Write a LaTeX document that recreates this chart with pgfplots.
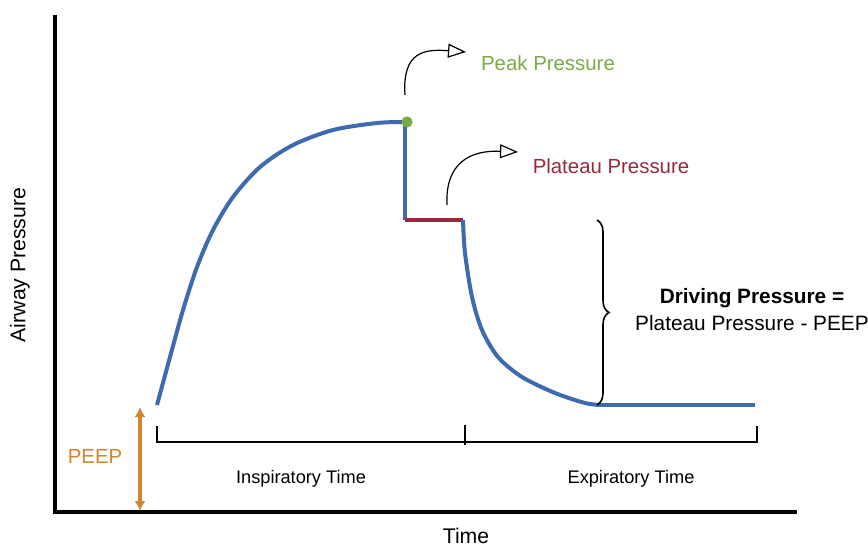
\documentclass[border=0pt]{standalone}
\usepackage{pgfplots}
\pgfplotsset{compat=1.18}
\usepackage{fontspec}
\setmainfont{Liberation Sans}
\usetikzlibrary{arrows.meta,decorations.pathreplacing}
\definecolor{cblue}{HTML}{3E6AAF}
\definecolor{cred}{HTML}{97293A}
\definecolor{cgreen}{HTML}{7AAB45}
\definecolor{corange}{HTML}{D3862F}
\begin{document}
\begin{tikzpicture}
\begin{axis}[name=ax,width=434pt,height=274pt,scale only axis,
  xmin=0,xmax=868,ymin=0,ymax=548,hide axis,clip=false]
% axes lines
\addplot[black,line width=2.2pt] coordinates {(55,533) (55,36)};
\addplot[black,line width=2.2pt] coordinates {(53,36) (797,36)};
% inspiration
\addplot[cblue,line width=2pt,smooth,tension=0.5] coordinates {
(157,143) (170,191) (183,238) (197,281) (213,318) (233,351) (260,381) (293,403) (333,418) (377,425) (405,426)};
\addplot[cblue,line width=2pt] coordinates {(405,426) (405,328)};
\addplot[cred,line width=2pt] coordinates {(405,328) (463,328)};
% expiration
\addplot[cblue,line width=2pt,smooth,tension=0.5] coordinates {
(463,328) (465,295) (472,251) (482,218) (498,191) (522,171) (555,155) (585,145) (600,143)};
\addplot[cblue,line width=2pt] coordinates {(600,143) (755,143)};
% peak dot
\addplot[only marks,mark=*,mark size=2.6pt,cgreen] coordinates {(407,426)};
% PEEP arrow
\addplot[corange,line width=2pt,{Latex[length=5pt,width=5.5pt]}-{Latex[length=5pt,width=5.5pt]}] coordinates {(140,141) (140,37)};
% brackets
\addplot[black,line width=1pt] coordinates {(157,122) (157,106) (757,106) (757,122)};
\addplot[black,line width=1pt] coordinates {(465,123) (465,103)};
% annotations
\draw[line width=0.6pt,-{Triangle[open,length=9pt,width=7pt]}] (axis cs:405,453) .. controls (axis cs:402,497) and (axis cs:425,499) .. (axis cs:466,496);
\draw[line width=0.6pt,-{Triangle[open,length=9pt,width=7pt]}] (axis cs:447,343) .. controls (axis cs:445,385) and (axis cs:470,398) .. (axis cs:518,396);
\draw[line width=0.8pt,decorate,decoration={brace,amplitude=6pt}] (axis cs:597,328) -- (axis cs:597,143);
\node[text=cgreen,font=\fontsize{10.2}{12}\selectfont] at (axis cs:548,485) {Peak Pressure};
\node[text=cred,font=\fontsize{10.2}{12}\selectfont] at (axis cs:611,382) {Plateau Pressure};
\node[font=\fontsize{10.4}{12}\selectfont\bfseries] at (axis cs:752,250) {Driving Pressure =};
\node[font=\fontsize{10.4}{12}\selectfont] at (axis cs:752,225) {Plateau Pressure - PEEP};
\node[text=corange,font=\fontsize{10.2}{12}\selectfont] at (axis cs:95,92) {PEEP};
\node[font=\fontsize{9.1}{11}\selectfont] at (axis cs:301,69) {Inspiratory Time};
\node[font=\fontsize{9.1}{11}\selectfont] at (axis cs:631,69) {Expiratory Time};
\node[font=\fontsize{10.6}{12}\selectfont,rotate=90] at (axis cs:20,283) {Airway Pressure};
\node[font=\fontsize{10.6}{12}\selectfont] at (axis cs:466,12) {Time};
\end{axis}
\pgfresetboundingbox
\path (ax.south west) rectangle (ax.north east);
\end{tikzpicture}
\end{document}
